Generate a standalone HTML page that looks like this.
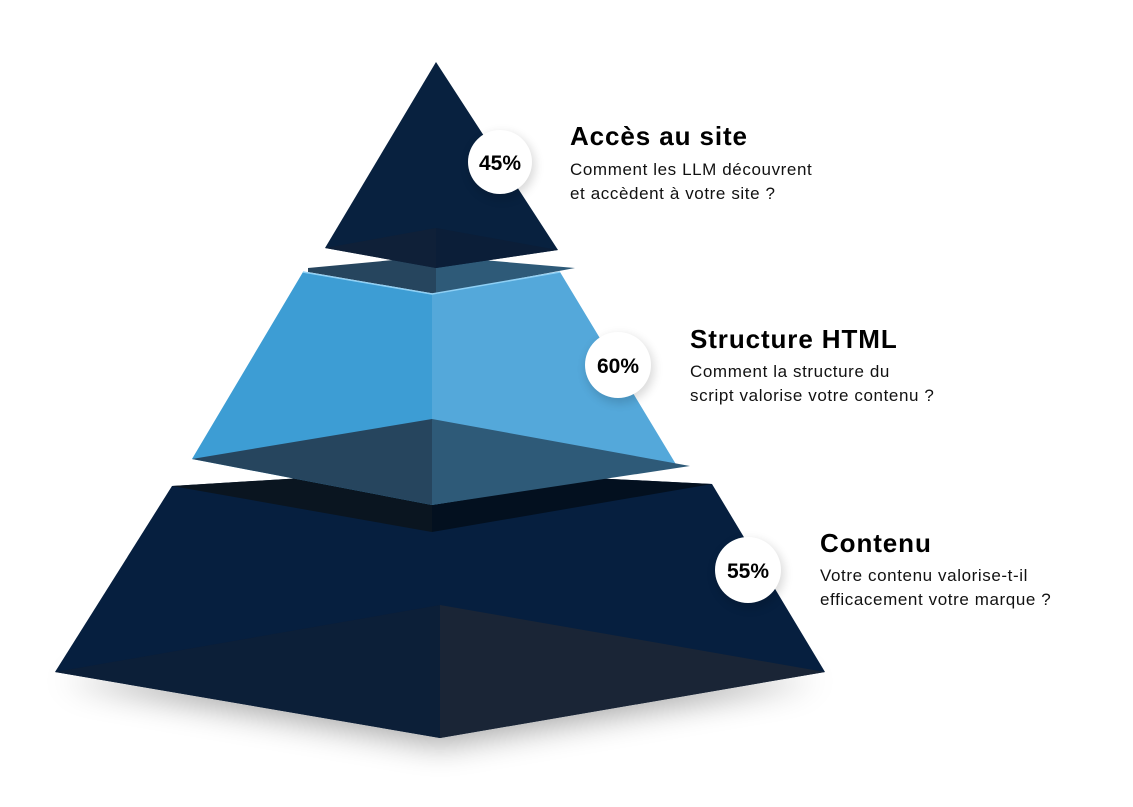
<!DOCTYPE html>
<html><head><meta charset="utf-8"><style>
body{margin:0;background:#fff;width:1133px;height:807px;overflow:hidden;font-family:"Liberation Sans",sans-serif}
.t{position:absolute;color:#000}
.h{font-weight:bold;font-size:26px;letter-spacing:0.9px}
.s{font-size:17px;line-height:24px;letter-spacing:0.6px;color:#111}
</style></head><body>
<svg width="1133" height="807" style="position:absolute;left:0;top:0">
<defs>
<filter id="b" x="-50%" y="-50%" width="200%" height="200%"><feGaussianBlur stdDeviation="16"/></filter>
<filter id="c" x="-50%" y="-50%" width="200%" height="200%"><feGaussianBlur stdDeviation="5"/></filter>
</defs>
<polygon points="60,680 440,745 820,680 440,660" fill="#000" opacity="0.35" filter="url(#b)"/>
<polygon points="172,486 432,470 712,484 825,672 440,738 55,672" fill="#061f3f"/>
<polygon points="172,486 432,470 432,532" fill="#0a1520"/>
<polygon points="432,470 712,484 432,532" fill="#03101f"/>
<polygon points="55,672 440,605 440,738" fill="#0c1f38"/>
<polygon points="440,605 825,672 440,738" fill="#1a2536"/>
<polygon points="303,272 432,294 432,505 192,459" fill="#3d9dd4"/>
<polygon points="432,294 560,272 677,466 432,505" fill="#54a8da"/>
<polygon points="308,268 436,256 436,294 308,272" fill="#26455e"/>
<polygon points="436,256 575,268 436,294" fill="#2e5a78"/>
<polyline points="303,272 432,294 560,272" fill="none" stroke="#8fd0f5" stroke-width="1.5"/>
<polygon points="192,459 432,419 432,505" fill="#26455e"/>
<polygon points="432,419 690,466 432,505" fill="#2e5a78"/>
<polygon points="436,62 558,250 436,268 325,248" fill="#08213f"/>
<polygon points="325,248 436,228 436,268" fill="#0f2038"/>
<polygon points="436,228 558,250 436,268" fill="#0b1e38"/>
<circle cx="502" cy="166" r="33" fill="#000" opacity="0.15" filter="url(#c)"/>
<circle cx="500" cy="162" r="32" fill="#fff"/>
<circle cx="620" cy="369" r="34" fill="#000" opacity="0.15" filter="url(#c)"/>
<circle cx="618" cy="365" r="33" fill="#fff"/>
<circle cx="750" cy="574" r="34" fill="#000" opacity="0.15" filter="url(#c)"/>
<circle cx="748" cy="570" r="33" fill="#fff"/>
<g font-family="Liberation Sans, sans-serif" font-weight="bold" font-size="21" text-anchor="middle" fill="#000">
<text x="500" y="170">45%</text>
<text x="618" y="373">60%</text>
<text x="748" y="578">55%</text>
</g>
</svg>
<div class="t h" style="left:570px;top:121px">Accès au site</div>
<div class="t s" style="left:570px;top:158px">Comment les LLM découvrent<br>et accèdent à votre site ?</div>
<div class="t h" style="left:690px;top:324px">Structure HTML</div>
<div class="t s" style="left:690px;top:360px">Comment la structure du<br>script valorise votre contenu ?</div>
<div class="t h" style="left:820px;top:528px">Contenu</div>
<div class="t s" style="left:820px;top:564px">Votre contenu valorise-t-il<br>efficacement votre marque ?</div>
</body></html>
